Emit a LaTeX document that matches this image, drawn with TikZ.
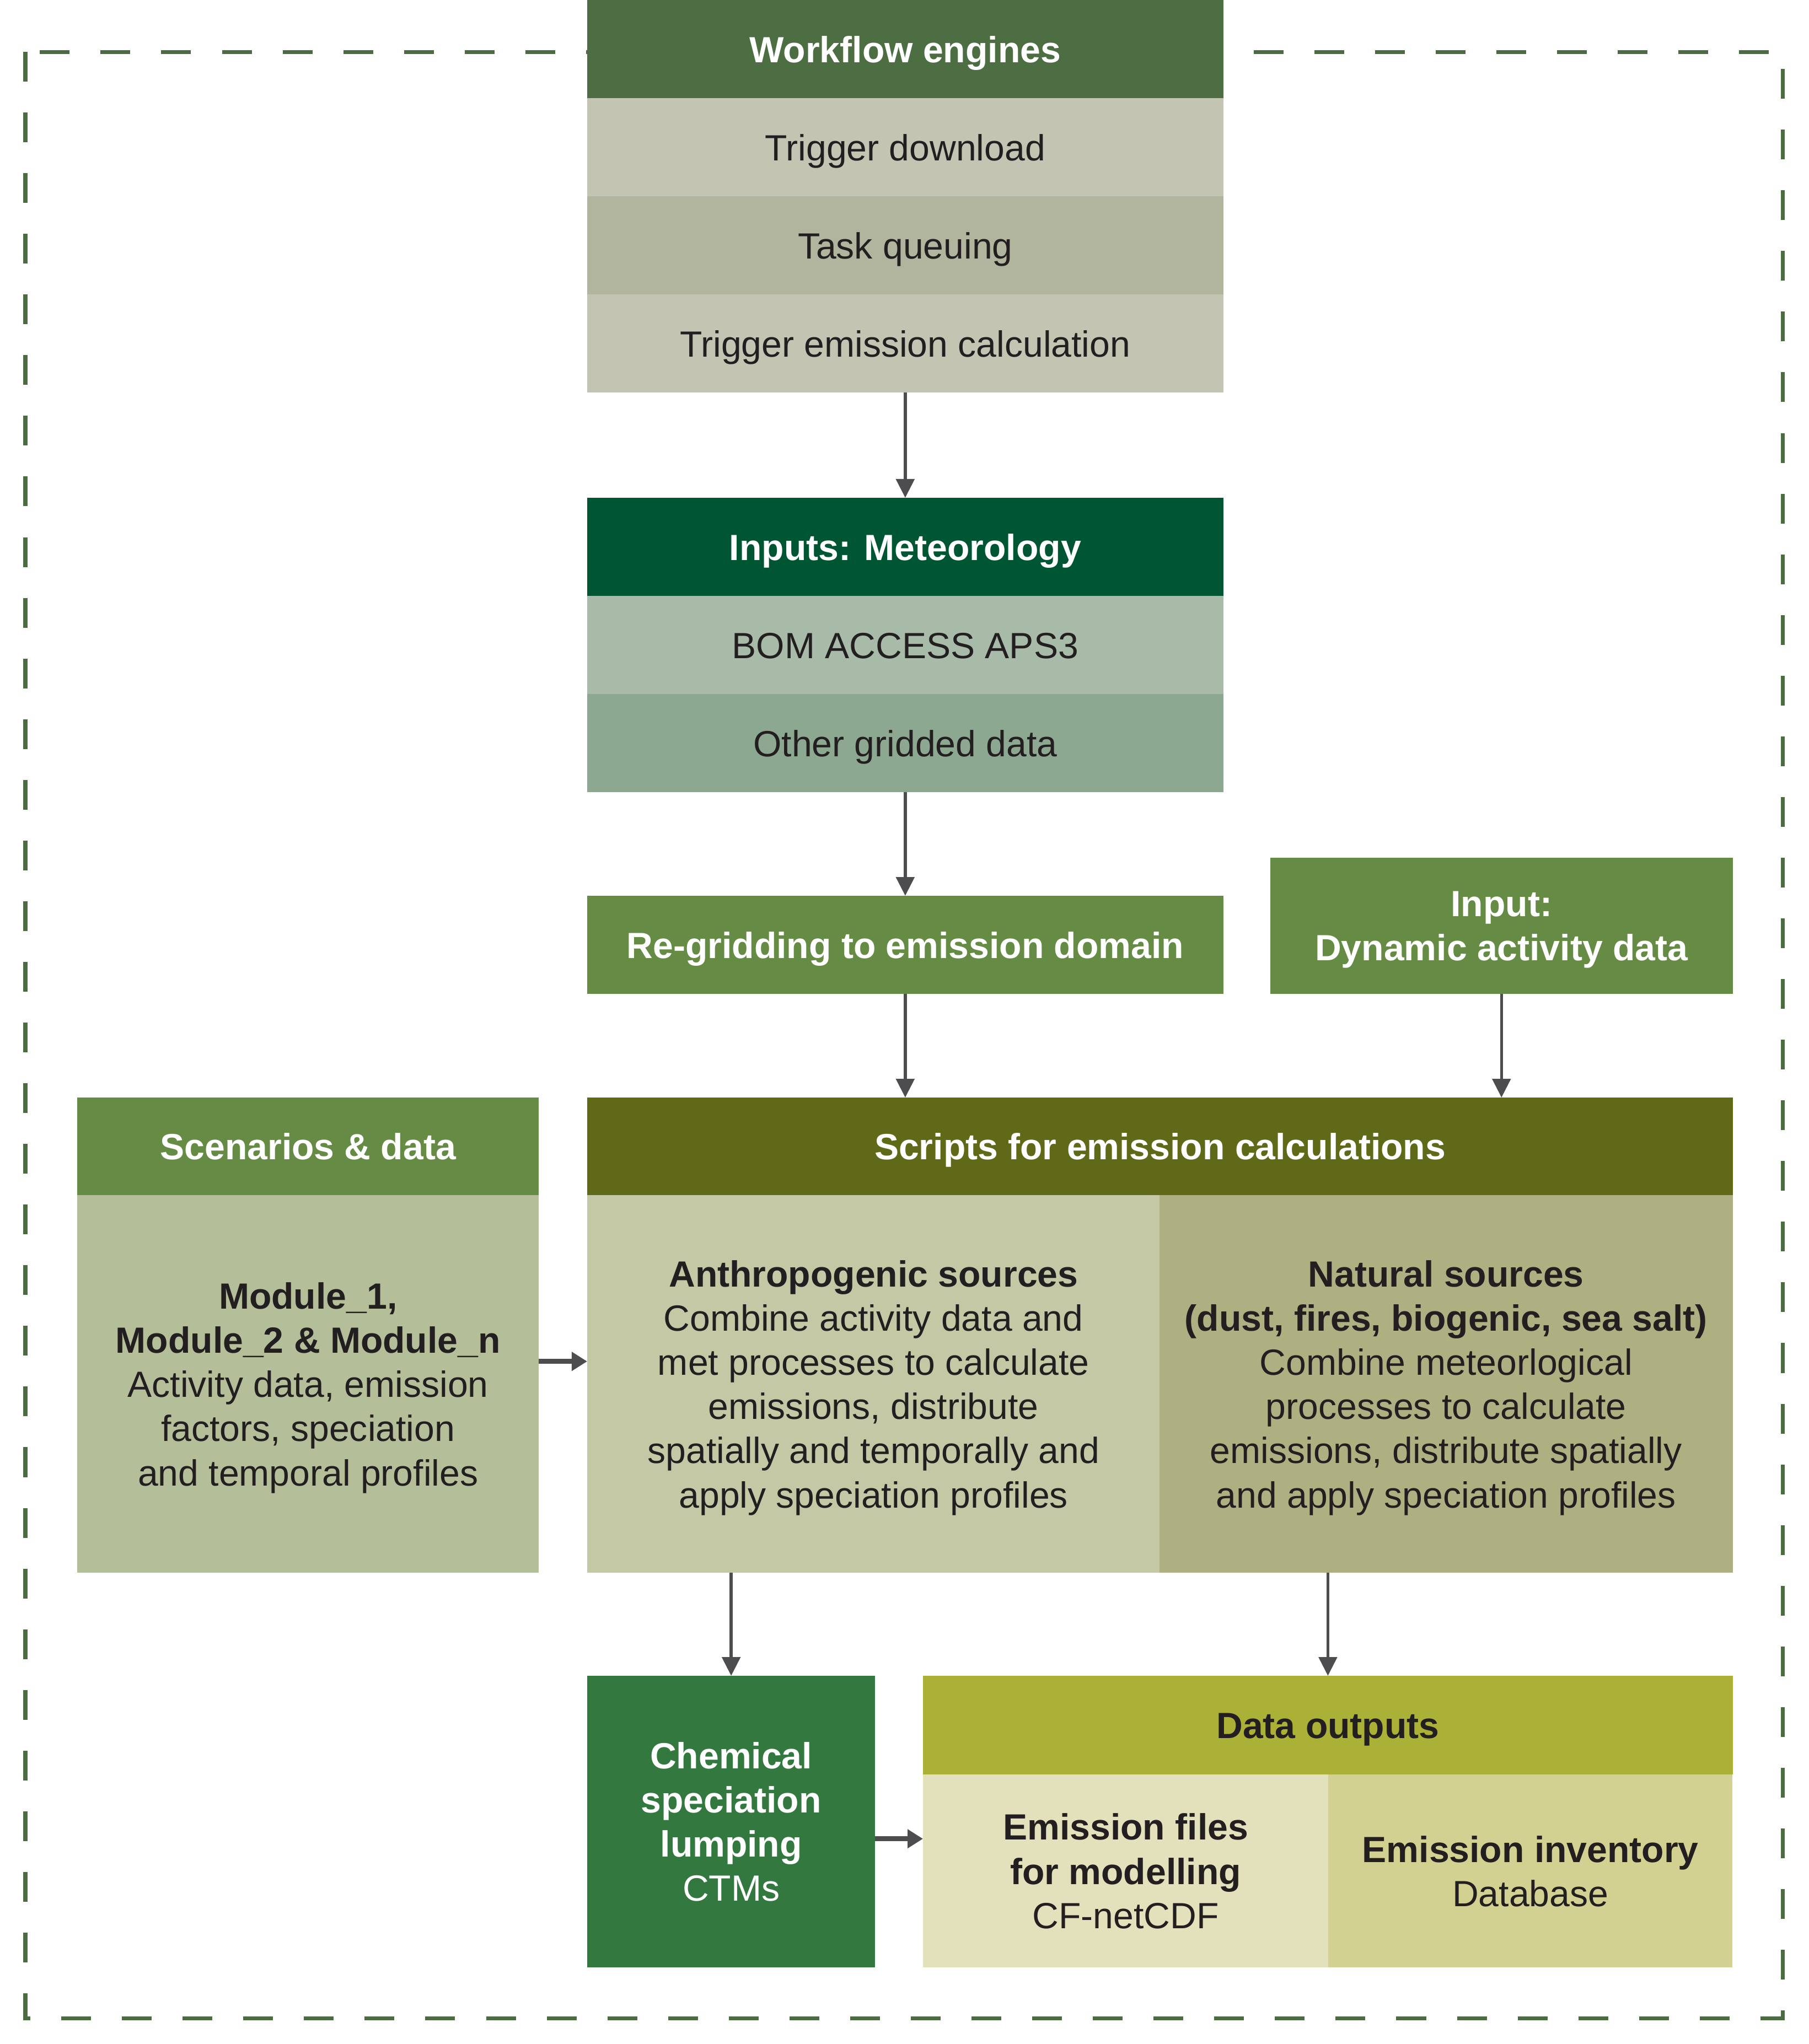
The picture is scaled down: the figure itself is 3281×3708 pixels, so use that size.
\documentclass[tikz,border=0pt]{standalone}
\usepackage{fontspec}
\setmainfont{Liberation Sans}
\usetikzlibrary{positioning,calc,arrows.meta}

\definecolor{framegreen}{HTML}{4B6B42}
\definecolor{arrgray}{HTML}{4D4D4F}
\definecolor{txtdark}{HTML}{231F20}
\definecolor{wfhead}{HTML}{4C6E42}
\definecolor{wflight}{HTML}{C3C4B2}
\definecolor{wfdark}{HTML}{B1B59D}
\definecolor{methead}{HTML}{005632}
\definecolor{bomfill}{HTML}{A7BBA8}
\definecolor{otherfill}{HTML}{8DA891}
\definecolor{midgreen}{HTML}{668B45}
\definecolor{scenfill}{HTML}{B4BF9A}
\definecolor{scripthead}{HTML}{5F6917}
\definecolor{anthrofill}{HTML}{C5C8A5}
\definecolor{natfill}{HTML}{AEB082}
\definecolor{chemfill}{HTML}{33793F}
\definecolor{outhead}{HTML}{ABB037}
\definecolor{filesfill}{HTML}{E3E1BB}
\definecolor{invfill}{HTML}{D3D191}

\tikzset{
  box/.style={rectangle, anchor=north west, inner sep=0pt, outer sep=0pt, align=center,
    text depth=0pt, text=txtdark, font=\fontsize{18.8pt}{22.8pt}\selectfont},
  oneline/.style={text height=0.48cm, text depth=0pt},
  headbox/.style={box, text=white, font=\fontsize{18.8pt}{22.8pt}\selectfont\bfseries},
  arr/.style={draw=arrgray, line width=0.055cm, -{Triangle[length=0.34cm,width=0.33cm]}},
  fatarr/.style={draw=arrgray, line width=0.085cm, -{Triangle[length=0.28cm,width=0.33cm]}},
  frame/.style={draw=framegreen, line width=0.07cm, dash pattern=on 0.54cm off 0.56cm}
}

\begin{document}
\begin{tikzpicture}[x=0.01cm,y=-0.01cm]
    \useasboundingbox (0,0) rectangle (3281,3708);
    % outer dashed frame
    \draw[frame] (46,94) rectangle (3233,3661);

    % Workflow engines
    \node[headbox, oneline, fill=wfhead, minimum width=11.53cm, minimum height=1.78cm] (wf) at (1065,0) {Workflow engines};
    \node[box, oneline, fill=wflight, minimum width=11.53cm, minimum height=1.78cm] (trigdl) at (1065,178) {Trigger download};
    \node[box, oneline, fill=wfdark, minimum width=11.53cm, minimum height=1.78cm] (queue) at (1065,356) {Task queuing};
    \node[box, oneline, fill=wflight, minimum width=11.53cm, minimum height=1.78cm] (trigem) at (1065,534) {Trigger emission calculation};

    % Inputs: Meteorology
    \node[headbox, oneline, fill=methead, minimum width=11.53cm, minimum height=1.78cm] (met) at (1065,903) {Inputs: Meteorology};
    \node[box, oneline, fill=bomfill, minimum width=11.53cm, minimum height=1.78cm] (bom) at (1065,1081) {BOM ACCESS APS3};
    \node[box, oneline, fill=otherfill, minimum width=11.53cm, minimum height=1.78cm] (other) at (1065,1259) {Other gridded data};

    % Re-gridding and dynamic input
    \node[headbox, oneline, fill=midgreen, minimum width=11.53cm, minimum height=1.78cm] (regrid) at (1065,1625) {Re-gridding to emission domain};
    \node[headbox, fill=midgreen, minimum width=8.38cm, minimum height=2.47cm] (dyn) at (2304,1556) {Input:\\Dynamic activity data};

    % Scenarios & data
    \node[headbox, oneline, fill=midgreen, minimum width=8.37cm, minimum height=1.77cm] (scen) at (140,1991) {Scenarios \& data};
    \node[box, fill=scenfill, minimum width=8.37cm, minimum height=6.85cm] (scenbody) at (140,2168)
        {\textbf{Module\_1,}\\\textbf{Module\_2 \& Module\_n}\\Activity data, emission\\factors, speciation\\and temporal profiles};

    % Scripts for emission calculations
    \node[headbox, oneline, fill=scripthead, minimum width=20.77cm, minimum height=1.77cm] (scripts) at (1065,1991) {Scripts for emission calculations};
    \node[box, fill=anthrofill, minimum width=10.38cm, minimum height=6.85cm] (anthro) at (1065,2168)
        {\textbf{Anthropogenic sources}\\Combine activity data and\\met processes to calculate\\emissions, distribute\\spatially and temporally and\\apply speciation profiles};
    \node[box, fill=natfill, minimum width=10.39cm, minimum height=6.85cm] (nat) at (2103,2168)
        {\textbf{Natural sources}\\\textbf{(dust, fires, biogenic, sea salt)}\\Combine meteorlogical\\processes to calculate\\emissions, distribute spatially\\and apply speciation profiles};

    % Chemical speciation
    \node[box, text=white, fill=chemfill, minimum width=5.22cm, minimum height=5.29cm] (chem) at (1065,3040)
        {\textbf{Chemical}\\\textbf{speciation}\\\textbf{lumping}\\CTMs};

    % Data outputs
    \node[box, oneline, font=\fontsize{18.8pt}{22.8pt}\selectfont\bfseries, fill=outhead, minimum width=14.68cm, minimum height=1.79cm] (out) at (1674,3040) {Data outputs};
    \node[box, fill=filesfill, minimum width=7.35cm, minimum height=3.5cm] (files) at (1674,3219)
        {\textbf{Emission files}\\\textbf{for modelling}\\CF-netCDF};
    \node[box, fill=invfill, minimum width=7.33cm, minimum height=3.5cm] (inv) at (2409,3219)
        {\textbf{Emission inventory}\\Database};

    % connectors
    \draw[arr] (trigem.south) -- (met.north);
    \draw[arr] (other.south) -- (regrid.north);
    \draw[arr] (regrid.south) -- (regrid.south |- scripts.north);
    \draw[arr] (dyn.south) -- (dyn.south |- scripts.north);
    \draw[fatarr] ([yshift=0.41cm]scenbody.east) -- ([yshift=0.41cm]anthro.west);
    \draw[arr] (chem.north |- anthro.south) -- (chem.north);
    \draw[arr] (out.north |- nat.south) -- (out.north);
    \draw[fatarr] ([yshift=-0.31cm]chem.east) -- ([yshift=-0.31cm]chem.east -| files.west);
\end{tikzpicture}
\end{document}
